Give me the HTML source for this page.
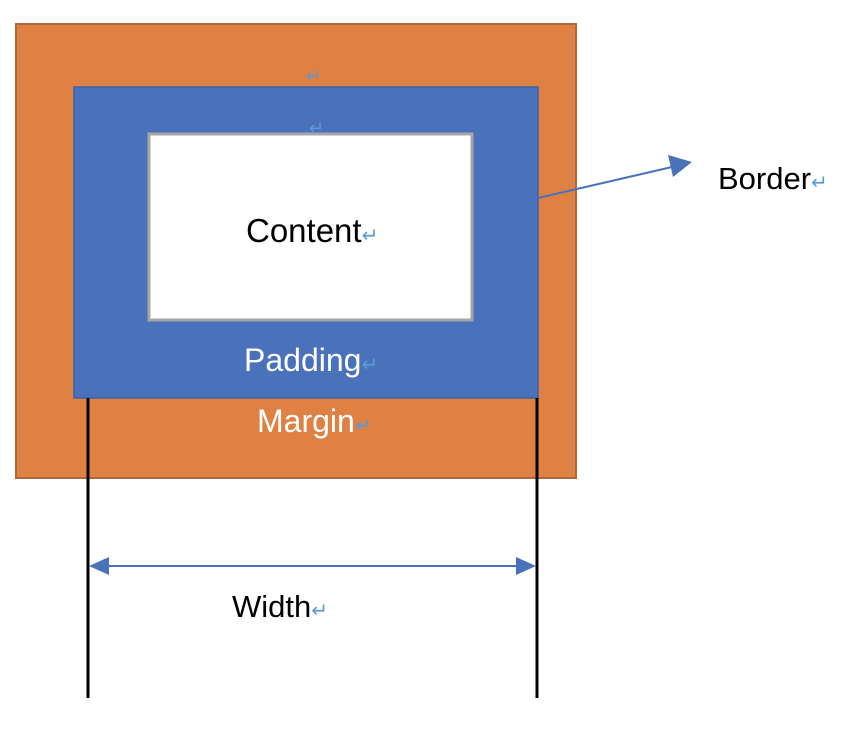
<!DOCTYPE html>
<html><head><style>
body{margin:0;width:846px;height:724px;background:#fff;overflow:hidden;font-family:"Liberation Sans","Noto Sans CJK SC",sans-serif}
</style></head><body>
<svg width="846" height="724" xmlns="http://www.w3.org/2000/svg" style="font-family:'Liberation Sans','Noto Sans CJK SC',sans-serif">
<rect x="16" y="24" width="560" height="454" fill="#e08144" stroke="#b0673a" stroke-width="2"/>
<rect x="74" y="87" width="464" height="311" fill="#4a72bb" stroke="#3f63a6" stroke-width="1.5"/>
<rect x="149" y="134" width="323" height="186" fill="#fff" stroke="#a6a6a6" stroke-width="3"/>
<text x="306" y="82" font-size="18" fill="#5b9bd5">↵</text>
<text x="309" y="134" font-size="18" fill="#5b9bd5">↵</text>
<text x="246" y="242" font-size="33" fill="#000">Content<tspan font-size="20" fill="#5b9bd5">↵</tspan></text>
<text x="244" y="371" font-size="32" fill="#fff">Padding<tspan font-size="20" fill="#5b9bd5">↵</tspan></text>
<text x="257" y="432" font-size="32" fill="#fff">Margin<tspan font-size="20" fill="#5b9bd5">↵</tspan></text>
<line x1="88" y1="398" x2="88" y2="698" stroke="#000" stroke-width="3"/>
<line x1="537" y1="398" x2="537" y2="698" stroke="#000" stroke-width="3"/>
<line x1="538" y1="198" x2="672" y2="167" stroke="#4a72bb" stroke-width="2"/>
<polygon points="692,162 668,155 673,177" fill="#4a72bb"/>
<text x="718" y="189" font-size="31" fill="#000">Border<tspan font-size="20" fill="#5b9bd5">↵</tspan></text>
<line x1="104" y1="566" x2="520" y2="566" stroke="#4a72bb" stroke-width="2"/>
<polygon points="89,566 109,557 109,575" fill="#4a72bb"/>
<polygon points="536,566 516,557 516,575" fill="#4a72bb"/>
<text x="232" y="617" font-size="31" fill="#000">Width<tspan font-size="20" fill="#5b9bd5">↵</tspan></text>
</svg>
</body></html>
